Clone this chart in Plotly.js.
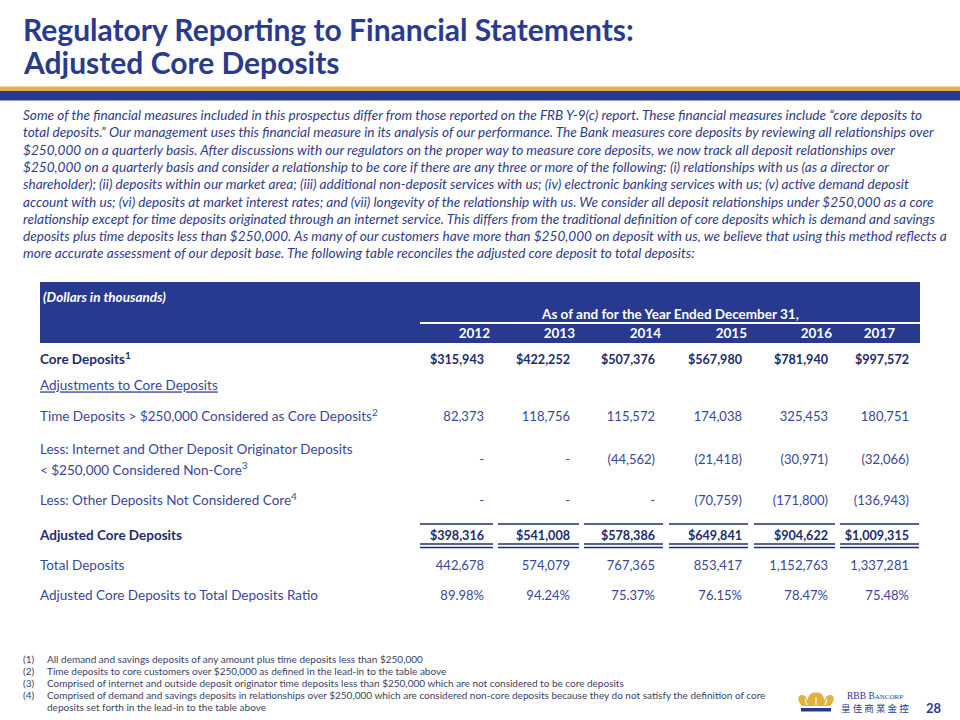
<!DOCTYPE html>
<html><head><meta charset="utf-8">
<script src="https://cdn.plot.ly/plotly-3.0.1.min.js"></script>
<style>html,body{margin:0;padding:0;background:#fff}#chart{width:960px;height:720px}</style>
</head><body><div id="chart"></div>
<script>
// ---------- DATA ----------
const years = ['2012', '2013', '2014', '2015', '2016', '2017'];
const coreDeposits = [315943, 422252, 507376, 567980, 781940, 997572];
const timeDepositsCore = [82373, 118756, 115572, 174038, 325453, 180751];
const internetNonCore = [null, null, -44562, -21418, -30971, -32066];
const otherNonCore = [null, null, null, -70759, -171800, -136943];
const adjustedCore = [398316, 541008, 578386, 649841, 904622, 1009315];
const totalDeposits = [442678, 574079, 767365, 853417, 1152763, 1337281];
const coreRatio = [89.98, 94.24, 75.37, 76.15, 78.47, 75.48];
const rowLabels = [
  'Core Deposits<sup>1</sup>',
  'Adjustments to Core Deposits',
  'Time Deposits &gt; $250,000 Considered as Core Deposits<sup>2</sup>',
  'Less: Internet and Other Deposit Originator Deposits<br>&lt; $250,000 Considered Non-Core<sup>3</sup>',
  'Less: Other Deposits Not Considered Core<sup>4</sup>',
  'Adjusted Core Deposits',
  'Total Deposits',
  'Adjusted Core Deposits to Total Deposits Ratio'
];
const titleLines = ['Regulatory Reporting to Financial Statements:', 'Adjusted Core Deposits'];
const introLines = [
  'Some of the financial measures included in this prospectus differ from those reported on the FRB Y-9(c) report. These financial measures include “core deposits to',
  'total deposits.” Our management uses this financial measure in its analysis of our performance. The Bank measures core deposits by reviewing all relationships over',
  '$250,000 on a quarterly basis. After discussions with our regulators on the proper way to measure core deposits, we now track all deposit relationships over',
  '$250,000 on a quarterly basis and consider a relationship to be core if there are any three or more of the following: (i) relationships with us (as a director or',
  'shareholder); (ii) deposits within our market area; (iii) additional non-deposit services with us; (iv) electronic banking services with us; (v) active demand deposit',
  'account with us; (vi) deposits at market interest rates; and (vii) longevity of the relationship with us. We consider all deposit relationships under $250,000 as a core',
  'relationship except for time deposits originated through an internet service. This differs from the traditional definition of core deposits which is demand and savings',
  'deposits plus time deposits less than $250,000. As many of our customers have more than $250,000 on deposit with us, we believe that using this method reflects a',
  'more accurate assessment of our deposit base. The following table reconciles the adjusted core deposit to total deposits:'
];
const footnoteNums = ['(1)', '(2)', '(3)', '(4)', ''];
const footnoteLines = [
  'All demand and savings deposits of any amount plus time deposits less than $250,000',
  'Time deposits to core customers over $250,000 as defined in the lead-in to the table above',
  'Comprised of internet and outside deposit originator time deposits less than $250,000 which are not considered to be core deposits',
  'Comprised of demand and savings deposits in relationships over $250,000 which are considered non-core deposits because they do not satisfy the definition of core',
  'deposits set forth in the lead-in to the table above'
];
const unitsLabel = '(Dollars in thousands)';
const periodLabel = 'As of and for the Year Ended December 31,';
const pageNumber = '28';

// ---------- LAYOUT GRID (positions / styles) ----------
const FONT = 'Lato, "Open Sans", sans-serif';
const NAVY = '#283a8f', DARK = '#222c6c', MID = '#38479a', TITLE = '#2a3a8c';
const labelX = 40;
const valueRight = [484, 570, 655, 742, 828, 909];
const yearRight = [490, 575, 661, 747, 832, 895];
const colLeft = [420, 498, 584, 669, 754, 840];
const colRight = [493, 579, 663, 748, 835, 919];
const rowY = [361, 387, 418, 461, 502, 537, 567, 597];
const headerYearY = 335;
const lineGap = 21;
const VSIZE = 13, BSIZE = 12.6;

// ---------- helpers ----------
function fmtNum(v, dollar) {
  if (v === null || v === undefined) return '-';
  const s = Math.abs(v).toLocaleString('en-US');
  if (v < 0) return '(' + s + ')';
  return (dollar ? '$' : '') + s;
}
const rowValues = [
  coreDeposits.map(v => '<b>' + fmtNum(v, true) + '</b>'),
  null,
  timeDepositsCore.map(v => fmtNum(v, false)),
  internetNonCore.map(v => fmtNum(v, false)),
  otherNonCore.map(v => fmtNum(v, false)),
  adjustedCore.map(v => '<b>' + fmtNum(v, true) + '</b>'),
  totalDeposits.map(v => fmtNum(v, false)),
  coreRatio.map(v => v.toFixed(2) + '%')
];
const boldRows = [0, 5];

const traces = [];
const lx = [], ly = [], lt = [], lc = [];
rowLabels.forEach((lab, r) => {
  const parts = lab.split('<br>');
  const n = parts.length;
  parts.forEach((p, k) => {
    lx.push(labelX);
    ly.push(rowY[r] + (k - (n - 1) / 2) * lineGap);
    let t = p.replace(/<sup>(\d)<\/sup>/g, '<sup><span style="font-size:10px">$1</span></sup>');
    if (boldRows.includes(r)) t = '<b>' + t + '</b>';
    if (r === 1) t = '<u>' + t + '</u>';
    lt.push(t);
    lc.push(boldRows.includes(r) ? DARK : MID);
  });
});
traces.push({type: 'scatter', mode: 'text', x: lx, y: ly, text: lt, textposition: 'middle right',
  textfont: {family: FONT, size: 13.5, color: lc}, hoverinfo: 'skip', cliponaxis: false, showlegend: false});

rowValues.forEach((vals, r) => {
  if (!vals) return;
  const bold = boldRows.includes(r);
  traces.push({type: 'scatter', mode: 'text', x: valueRight, y: vals.map(() => rowY[r]), text: vals,
    textposition: 'middle left', textfont: {family: FONT, size: bold ? BSIZE : VSIZE, color: bold ? DARK : MID},
    hoverinfo: 'skip', cliponaxis: false, showlegend: false});
});

traces.push({type: 'scatter', mode: 'text', x: yearRight, y: years.map(() => headerYearY),
  text: years.map(y => '<b>' + y + '</b>'), textposition: 'middle left',
  textfont: {family: FONT, size: 13.5, color: '#ffffff'}, hoverinfo: 'skip', cliponaxis: false, showlegend: false});

// ---------- shapes ----------
const shapes = [
  {type: 'rect', xref: 'x', yref: 'y', x0: 0, x1: 960, y0: 86.5, y1: 91, fillcolor: '#e0b64c', line: {width: 0}, layer: 'below'},
  {type: 'rect', xref: 'x', yref: 'y', x0: 0, x1: 960, y0: 91, y1: 100.5, fillcolor: NAVY, line: {width: 0}, layer: 'below'},
  {type: 'rect', xref: 'x', yref: 'y', x0: 40, x1: 920, y0: 282, y1: 343, fillcolor: NAVY, line: {width: 0}, layer: 'below'},
  {type: 'line', xref: 'x', yref: 'y', x0: 420, x1: 920, y0: 323, y1: 323, line: {color: '#ffffff', width: 2}}
];
colLeft.forEach((l, i) => {
  shapes.push({type: 'line', xref: 'x', yref: 'y', x0: l, x1: colRight[i], y0: 524, y1: 524, line: {color: DARK, width: 1.3}});
  shapes.push({type: 'line', xref: 'x', yref: 'y', x0: l, x1: colRight[i], y0: 544, y1: 544, line: {color: DARK, width: 1.3}});
  shapes.push({type: 'line', xref: 'x', yref: 'y', x0: l, x1: colRight[i], y0: 547.5, y1: 547.5, line: {color: DARK, width: 1.3}});
});
// logo crown
shapes.push({type: 'path', xref: 'x', yref: 'y',
  path: 'M802,706 C797,701 797,695 802,695 C805,695 806,698 808,700 C808,695 811,692.5 816,692.5 C821,692.5 824,695 824,700 C826,698 827,695 830,695 C835,695 835,701 830,706 Z',
  fillcolor: '#e3b23c', line: {width: 0}});
shapes.push({type: 'path', xref: 'x', yref: 'y',
  path: 'M807,705 L805,699 M816,705 L816,697 M825,705 L827,699',
  line: {color: '#ffffff', width: 1.1}});
shapes.push({type: 'rect', xref: 'x', yref: 'y', x0: 801, x1: 831, y0: 708, y1: 711.5, fillcolor: NAVY, line: {width: 0}});

// ---------- annotations ----------
const ann = [];
titleLines.forEach((t, i) => ann.push({x: 21, y: [29, 62][i], xref: 'x', yref: 'y', text: '<b>' + t + '</b>',
  showarrow: false, xanchor: 'left', yanchor: 'middle', font: {family: FONT, size: 30, color: TITLE}}));
introLines.forEach((t, i) => ann.push({x: 21, y: 115 + i * 17.3, xref: 'x', yref: 'y', text: '<i>' + t + '</i>',
  showarrow: false, xanchor: 'left', yanchor: 'middle', font: {family: FONT, size: 13.6, color: '#2e3b88'}}));
ann.push({x: 41, y: 297, xref: 'x', yref: 'y', text: '<b><i>' + unitsLabel + '</i></b>', showarrow: false,
  xanchor: 'left', yanchor: 'middle', font: {family: FONT, size: 13.5, color: '#ffffff'}});
ann.push({x: 670, y: 314, xref: 'x', yref: 'y', text: '<b>' + periodLabel + '</b>', showarrow: false,
  xanchor: 'center', yanchor: 'middle', font: {family: FONT, size: 13.5, color: '#ffffff'}});
footnoteLines.forEach((t, i) => {
  const y = 659 + i * 12;
  if (footnoteNums[i]) ann.push({x: 21, y: y, xref: 'x', yref: 'y', text: footnoteNums[i], showarrow: false,
    xanchor: 'left', yanchor: 'middle', font: {family: FONT, size: 10, color: '#3a3f66'}});
  ann.push({x: 45, y: y, xref: 'x', yref: 'y', text: t, showarrow: false,
    xanchor: 'left', yanchor: 'middle', font: {family: FONT, size: 10, color: '#3a3f66'}});
});
ann.push({x: 845, y: 696, xref: 'x', yref: 'y', text: 'RBB B<span style="font-size:7px">ANCORP</span>', showarrow: false,
  xanchor: 'left', yanchor: 'middle', font: {family: '"Liberation Serif", serif', size: 9.5, color: NAVY}});
ann.push({x: 839, y: 708, xref: 'x', yref: 'y', text: '皇 佳 商 業 金 控', showarrow: false,
  xanchor: 'left', yanchor: 'middle', font: {family: '"Noto Sans CJK TC", sans-serif', size: 9.5, color: NAVY}});
ann.push({x: 944, y: 708, xref: 'x', yref: 'y', text: '<b>' + pageNumber + '</b>', showarrow: false,
  xanchor: 'right', yanchor: 'middle', font: {family: FONT, size: 13, color: NAVY}});

const layout = {
  width: 960, height: 720, margin: {l: 0, r: 0, t: 0, b: 0},
  paper_bgcolor: '#ffffff', plot_bgcolor: '#ffffff',
  xaxis: {range: [0, 960], visible: false, fixedrange: true},
  yaxis: {range: [720, 0], visible: false, fixedrange: true},
  shapes: shapes, annotations: ann, showlegend: false, hovermode: false
};
Plotly.newPlot('chart', traces, layout, {displayModeBar: false, staticPlot: true});
</script></body></html>
